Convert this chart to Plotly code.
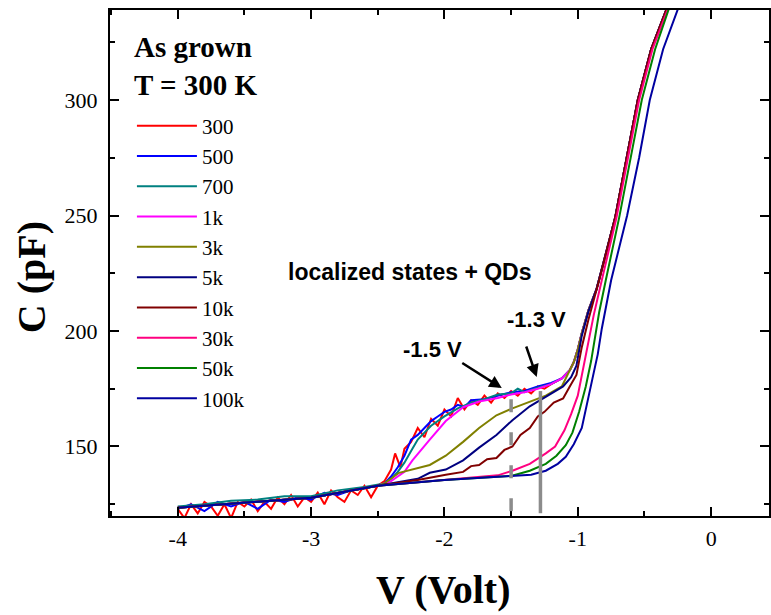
import plotly.graph_objects as go

# ---------------- data ----------------
LABELS = ["300", "500", "700", "1k", "3k", "5k", "10k", "30k", "50k", "100k"]
COLORS = ["#FF0000", "#0000FF", "#008080", "#FF00FF", "#808000",
          "#000080", "#800000", "#FF0080", "#008000", "#0000A0"]

# upper (depletion) branch shared by the low-frequency curves
BUNDLE_V = [-1.12, -1.06, -1.03, -1.00, -0.97, -0.92, -0.86, -0.79, -0.72, -0.64, -0.55, -0.45, -0.34, -0.25]
BUNDLE_C = [179.5, 183.0, 186.5, 192.0, 199.0, 209.0, 218.0, 233.0, 249.0, 273.0, 300.0, 322.0, 339.0, 352.0]

V_300 = [-4.00, -3.95, -3.90, -3.85, -3.80, -3.75, -3.70, -3.65, -3.60, -3.55, -3.50, -3.45, -3.40,
         -3.35, -3.30, -3.25, -3.20, -3.15, -3.10, -3.05, -3.00, -2.95, -2.90, -2.85, -2.80, -2.75,
         -2.70, -2.65, -2.60, -2.55, -2.50, -2.45, -2.40, -2.37, -2.33, -2.30, -2.25, -2.20, -2.15,
         -2.10, -2.05, -2.00, -1.95, -1.90, -1.85, -1.80, -1.75, -1.70, -1.65, -1.60, -1.55, -1.50,
         -1.45, -1.40, -1.35, -1.30, -1.25, -1.20]
C_300 = [123, 119, 125, 121, 126, 124, 120, 125, 119, 126, 124, 127, 122,
         126, 123, 128, 125, 129, 124, 128, 126, 130, 125, 131, 128, 126,
         131, 129, 133, 128, 133, 135, 140, 147, 141, 149, 152, 158, 154,
         162, 159, 166, 163, 171, 166, 170, 168, 172, 169, 173, 171, 174,
         172, 175, 173, 176, 175, 177]

V_500 = [-4.0, -3.9, -3.8, -3.7, -3.6, -3.5, -3.4, -3.3, -3.2, -3.1, -3.0, -2.9, -2.8, -2.7, -2.6,
         -2.5, -2.45, -2.4, -2.35, -2.3, -2.25, -2.2, -2.15, -2.1, -2.05, -2.0, -1.95, -1.9, -1.85,
         -1.8, -1.7, -1.6, -1.5, -1.4, -1.3, -1.2]
C_500 = [123, 125, 122, 126, 124, 126, 123, 127, 126, 128, 127, 130, 129, 131, 132,
         133, 134, 137, 141, 146, 153, 155, 158, 161, 163, 165, 166, 168, 167,
         170, 170.5, 172, 173.5, 174, 176, 177.5]

V_700 = [-4.0, -3.8, -3.6, -3.4, -3.2, -3.0, -2.8, -2.6, -2.45, -2.4, -2.35, -2.3, -2.25, -2.2,
         -2.15, -2.1, -2.0, -1.9, -1.8, -1.7, -1.6, -1.5, -1.45, -1.4, -1.3, -1.2]
C_700 = [124, 125, 126.5, 127, 128.5, 128.5, 131, 132.5, 134, 136, 139, 143, 148, 153,
         156, 159, 163, 166.5, 169, 170.5, 172.5, 173, 175, 173.5, 175.5, 177]

V_1K = [-4.0, -3.5, -3.0, -2.5, -2.4, -2.3, -2.24, -2.11, -1.99, -1.86, -1.74, -1.6, -1.5,
        -1.4, -1.3, -1.2]
C_1K = [123.5, 125.5, 127.8, 133, 135, 139, 144, 153, 161, 167, 169.5, 171, 172.5,
        173.5, 175, 177]

V_3K = [-4.0, -3.5, -3.0, -2.5, -2.45, -2.34, -2.2, -2.11, -1.99, -1.86, -1.74, -1.61, -1.49,
        -1.36, -1.24, -1.12, -1.06, -1.03, -1.00, -0.97, -0.92, -0.86, -0.79, -0.72, -0.64,
        -0.55, -0.45, -0.34, -0.25]
C_3K = [123.5, 125.5, 127.8, 133, 134, 138.6, 140.5, 142, 146, 152, 158, 163.5, 166.5,
        169.5, 172, 176, 183, 186.5, 192, 199, 209, 218, 233, 249, 273,
        300, 322, 339, 352]

V_5K = [-4.0, -3.5, -3.0, -2.5, -2.2, -2.11, -1.99, -1.86, -1.74, -1.61, -1.49, -1.36, -1.24,
        -1.11, -1.05, -1.01, -0.97, -0.92, -0.86, -0.79, -0.72, -0.64, -0.55, -0.45, -0.34, -0.25]
C_5K = [123.5, 125.5, 127.8, 133, 136, 138.6, 140, 144, 149.5, 155, 161.4, 167.4, 171.7,
        176, 180, 185, 198, 208.5, 218, 233, 249, 273, 300, 322, 339, 352]

V_10K = [-4.0, -3.5, -3.0, -2.5, -2.2, -1.99, -1.86, -1.80, -1.74, -1.68, -1.61, -1.55, -1.49,
         -1.43, -1.36, -1.30, -1.25, -1.18, -1.11, -1.06, -1.01, -0.97, -0.92, -0.84, -0.72,
         -0.64, -0.55, -0.45, -0.34, -0.25]
C_10K = [123.5, 125.5, 127.8, 133, 135.5, 137.8, 139, 141.5, 142, 144.5, 145, 148.5, 150,
         155, 158, 163, 165, 169, 170.8, 176, 181, 193, 205, 222, 249,
         273, 300, 322, 339, 352]

V_30K = [-4.0, -3.5, -3.0, -2.5, -2.0, -1.6, -1.49, -1.36, -1.24, -1.17, -1.10, -1.05, -1.00,
         -0.93, -0.88, -0.82, -0.71, -0.63, -0.54, -0.44, -0.33, -0.24]
C_30K = [123.5, 125.5, 127.8, 133, 135.5, 137.5, 139.5, 142.5, 147, 150, 157, 164, 172,
         193, 207, 222, 249, 273, 300, 322, 339, 352]

V_50K = [-4.0, -3.5, -3.0, -2.5, -2.0, -1.5, -1.36, -1.24, -1.16, -1.09, -1.04, -0.99, -0.94,
         -0.90, -0.84, -0.79, -0.69, -0.61, -0.52, -0.42, -0.32, -0.22]
C_50K = [123.5, 125.5, 127.8, 133, 135.5, 137.2, 139.5, 142.5, 146, 150.6, 156, 165, 176,
         187, 208, 222, 249, 273, 300, 322, 339, 352]

V_100K = [-4.0, -3.5, -3.0, -2.5, -2.0, -1.5, -1.35, -1.24, -1.15, -1.09, -1.03, -0.97, -0.93,
          -0.89, -0.85, -0.82, -0.75, -0.63, -0.54, -0.46, -0.36, -0.25, -0.15]
C_100K = [123.5, 125.5, 127.8, 133, 135.5, 137.2, 137.8, 139.5, 142.5, 145.5, 151, 158, 168,
          179.4, 190, 201, 222, 250, 275, 300, 322, 339, 355]

SERIES_V = [V_300 + BUNDLE_V, V_500 + BUNDLE_V, V_700 + BUNDLE_V, V_1K + BUNDLE_V,
            V_3K, V_5K, V_10K, V_30K, V_50K, V_100K]
SERIES_C = [C_300 + BUNDLE_C, C_500 + BUNDLE_C, C_700 + BUNDLE_C, C_1K + BUNDLE_C,
            C_3K, C_5K, C_10K, C_30K, C_50K, C_100K]

# marker lines and their annotations
MARK_V = [-1.5, -1.28]
MARK_TOP = [170.5, 174.0]
MARK_LABELS = ["-1.5 V", "-1.3 V"]

X_TICKS = [-4, -3, -2, -1, 0]
Y_TICKS = [150, 200, 250, 300]
X_RANGE = [-4.508, 0.434]
Y_RANGE = [119.9, 339.0]

SERIF = "Liberation Serif, Times New Roman, serif"
SANS = "Liberation Sans, Arial, sans-serif"

W, H = 771, 615
L, R, T, B = 110, 0, 10, 99
pw, ph = W - L - R, H - T - B

fig = go.Figure()
for v, c, name, col in zip(SERIES_V, SERIES_C, LABELS, COLORS):
    fig.add_trace(go.Scatter(x=v, y=c, mode="lines", name=name,
                             line=dict(color=col, width=2)))

# vertical gray marker lines
fig.add_shape(type="line", x0=MARK_V[0], x1=MARK_V[0], y0=MARK_TOP[0], y1=Y_RANGE[0] + 0.6,
              xref="x", yref="y", line=dict(color="#8c8c8c", width=3.5, dash="13px,20px"))
fig.add_shape(type="line", x0=MARK_V[1], x1=MARK_V[1], y0=MARK_TOP[1], y1=Y_RANGE[0] + 1.2,
              xref="x", yref="y", line=dict(color="#8c8c8c", width=3.5))

# arrows
fig.add_annotation(x=-1.570, y=175.3, xref="x", yref="y", text="", showarrow=True,
                   ax=-41, ay=-26, arrowhead=2, arrowsize=1, arrowwidth=2.5, arrowcolor="black")
fig.add_annotation(x=-1.308, y=180.1, xref="x", yref="y", text="", showarrow=True,
                   ax=-11, ay=-32, arrowhead=2, arrowsize=1, arrowwidth=2.5, arrowcolor="black")

fig.add_annotation(x=-2.086, y=191.8, xref="x", yref="y", text="<b>" + MARK_LABELS[0] + "</b>",
                   showarrow=False, font=dict(family=SANS, size=22, color="black"))
fig.add_annotation(x=-1.308, y=205.2, xref="x", yref="y", text="<b>" + MARK_LABELS[1] + "</b>",
                   showarrow=False, font=dict(family=SANS, size=22, color="black"))
fig.add_annotation(x=-2.258, y=225.5, xref="x", yref="y", text="<b>localized states + QDs</b>",
                   showarrow=False, font=dict(family=SANS, size=23, color="black"))

fig.add_annotation(x=-4.345, y=322.9, xref="x", yref="y", text="<b>As grown</b>", xanchor="left",
                   showarrow=False, font=dict(family=SERIF, size=29, color="black"))
fig.add_annotation(x=-4.345, y=306.4, xref="x", yref="y", text="<b>T = 300 K</b>", xanchor="left",
                   showarrow=False, font=dict(family=SERIF, size=29, color="black"))

# axis titles (positions given in pixels, converted to paper coords)
fig.add_annotation(x=(444.5 - L) / pw, y=(H - B - 589) / ph, xref="paper", yref="paper",
                   xanchor="center", yanchor="middle", text="<b>V (Volt)</b>",
                   showarrow=False, font=dict(family=SERIF, size=40, color="black"))
fig.add_annotation(x=(31 - L) / pw, y=(H - B - 277) / ph, xref="paper", yref="paper",
                   xanchor="center", yanchor="middle", text="<b>C (pF)</b>", textangle=-90,
                   showarrow=False, font=dict(family=SERIF, size=40, color="black"))

axis_common = dict(showline=True, linewidth=2, linecolor="black", mirror="ticks",
                   ticks="inside", ticklen=9, tickwidth=2, tickcolor="black",
                   showgrid=False, zeroline=False,
                   tickfont=dict(family=SERIF, size=22, color="black"))

fig.update_xaxes(range=X_RANGE, tickvals=X_TICKS, ticktext=[str(t) for t in X_TICKS],
                 minor=dict(dtick=0.5, tick0=0, ticks="inside", ticklen=5, tickwidth=2,
                            tickcolor="black"),
                 ticklabelstandoff=2, **axis_common)
fig.update_yaxes(range=Y_RANGE, tickvals=Y_TICKS, ticktext=[str(t) for t in Y_TICKS],
                 minor=dict(dtick=25, tick0=0, ticks="inside", ticklen=5, tickwidth=2,
                            tickcolor="black"),
                 ticklabelstandoff=6, **axis_common)

fig.update_layout(
    width=W, height=H,
    margin=dict(l=L, r=R, t=T, b=B, pad=0),
    paper_bgcolor="white", plot_bgcolor="white",
    showlegend=True,
    legend=dict(x=(132 - L) / pw, y=(H - B - 105.5) / ph, xanchor="left", yanchor="top",
                bgcolor="rgba(0,0,0,0)", borderwidth=0, itemwidth=60,
                font=dict(family=SERIF, size=21, color="black"), tracegroupgap=0),
)

fig.write_html("out.html")
